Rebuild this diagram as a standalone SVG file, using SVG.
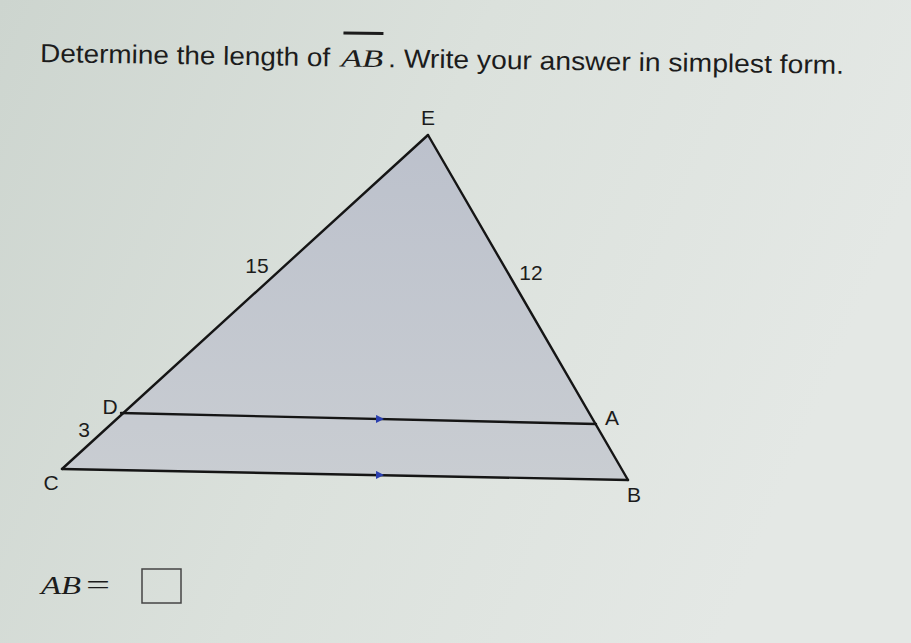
<svg xmlns="http://www.w3.org/2000/svg" width="911" height="643" viewBox="0 0 911 643">
<defs>
<linearGradient id="bg" x1="0" y1="0" x2="1" y2="0.3">
<stop offset="0" stop-color="#cdd5cf"/>
<stop offset="0.5" stop-color="#dbe1dc"/>
<stop offset="1" stop-color="#e4e8e5"/>
</linearGradient>
<linearGradient id="tri" x1="0" y1="0" x2="0" y2="1">
<stop offset="0" stop-color="#bcc1cc"/>
<stop offset="1" stop-color="#c9cdd2"/>
</linearGradient>
<marker id="arr" viewBox="0 0 10 10" refX="5" refY="5" markerWidth="8" markerHeight="8" orient="auto" markerUnits="userSpaceOnUse">
<path d="M0,0 L10,5 L0,10 z" fill="#2a3fb0"/>
</marker>
<style>
.t{font-family:"Liberation Sans",Arial,sans-serif;fill:#1c1c1c}
.i{font-family:"Liberation Serif","Times New Roman",serif;font-style:italic;fill:#1c1c1c}
.lb{font-family:"Liberation Sans",Arial,sans-serif;fill:#1c1c1c;font-size:21px;text-anchor:middle}
.ln{stroke:#151515;stroke-width:2.4;fill:none;stroke-linecap:round}
</style>
</defs>
<rect width="911" height="643" fill="url(#bg)"/>
<g id="title" transform="rotate(0.85 40 62)">
<text class="t" x="40" y="62" font-size="26" textLength="290" lengthAdjust="spacingAndGlyphs">Determine the length of</text>
<text class="i" x="341" y="62" font-size="25" textLength="42" lengthAdjust="spacingAndGlyphs">AB</text>
<line x1="343" y1="28.5" x2="383" y2="28.5" stroke="#1c1c1c" stroke-width="3"/>
<text class="t" x="388" y="62" font-size="26" textLength="456" lengthAdjust="spacingAndGlyphs">. Write your answer in simplest form.</text>
</g>
<g id="triangle">
<polygon points="428,135 62,469 628,480" fill="url(#tri)"/>
</g>
<g id="connectors">
<line class="ln" x1="428" y1="135" x2="62" y2="469"/>
<line class="ln" x1="428" y1="135" x2="628" y2="480"/>
<line class="ln" x1="62" y1="469" x2="628" y2="480"/>
<line class="ln" x1="121" y1="413" x2="596" y2="424"/>
<line x1="370" y1="418.8" x2="380" y2="419" stroke="none" marker-end="url(#arr)"/>
<line x1="370" y1="474.8" x2="380" y2="475" stroke="none" marker-end="url(#arr)"/>
</g>
<g id="labels">
<text class="lb" x="428" y="125">E</text>
<text class="lb" x="257" y="273">15</text>
<text class="lb" x="531" y="280">12</text>
<text class="lb" x="110" y="414">D</text>
<text class="lb" x="84" y="437">3</text>
<text class="lb" x="612" y="425">A</text>
<text class="lb" x="51" y="490">C</text>
<text class="lb" x="634" y="502">B</text>
</g>
<g id="answer">
<text class="i" x="41" y="594" font-size="26" textLength="40" lengthAdjust="spacingAndGlyphs">AB</text>
<text x="86" y="594" font-size="28" font-family="Liberation Serif, serif" fill="#1c1c1c" textLength="24" lengthAdjust="spacingAndGlyphs">=</text>
<rect x="142" y="569" width="39" height="34" fill="none" stroke="#444" stroke-width="1.5"/>
</g>
</svg>
